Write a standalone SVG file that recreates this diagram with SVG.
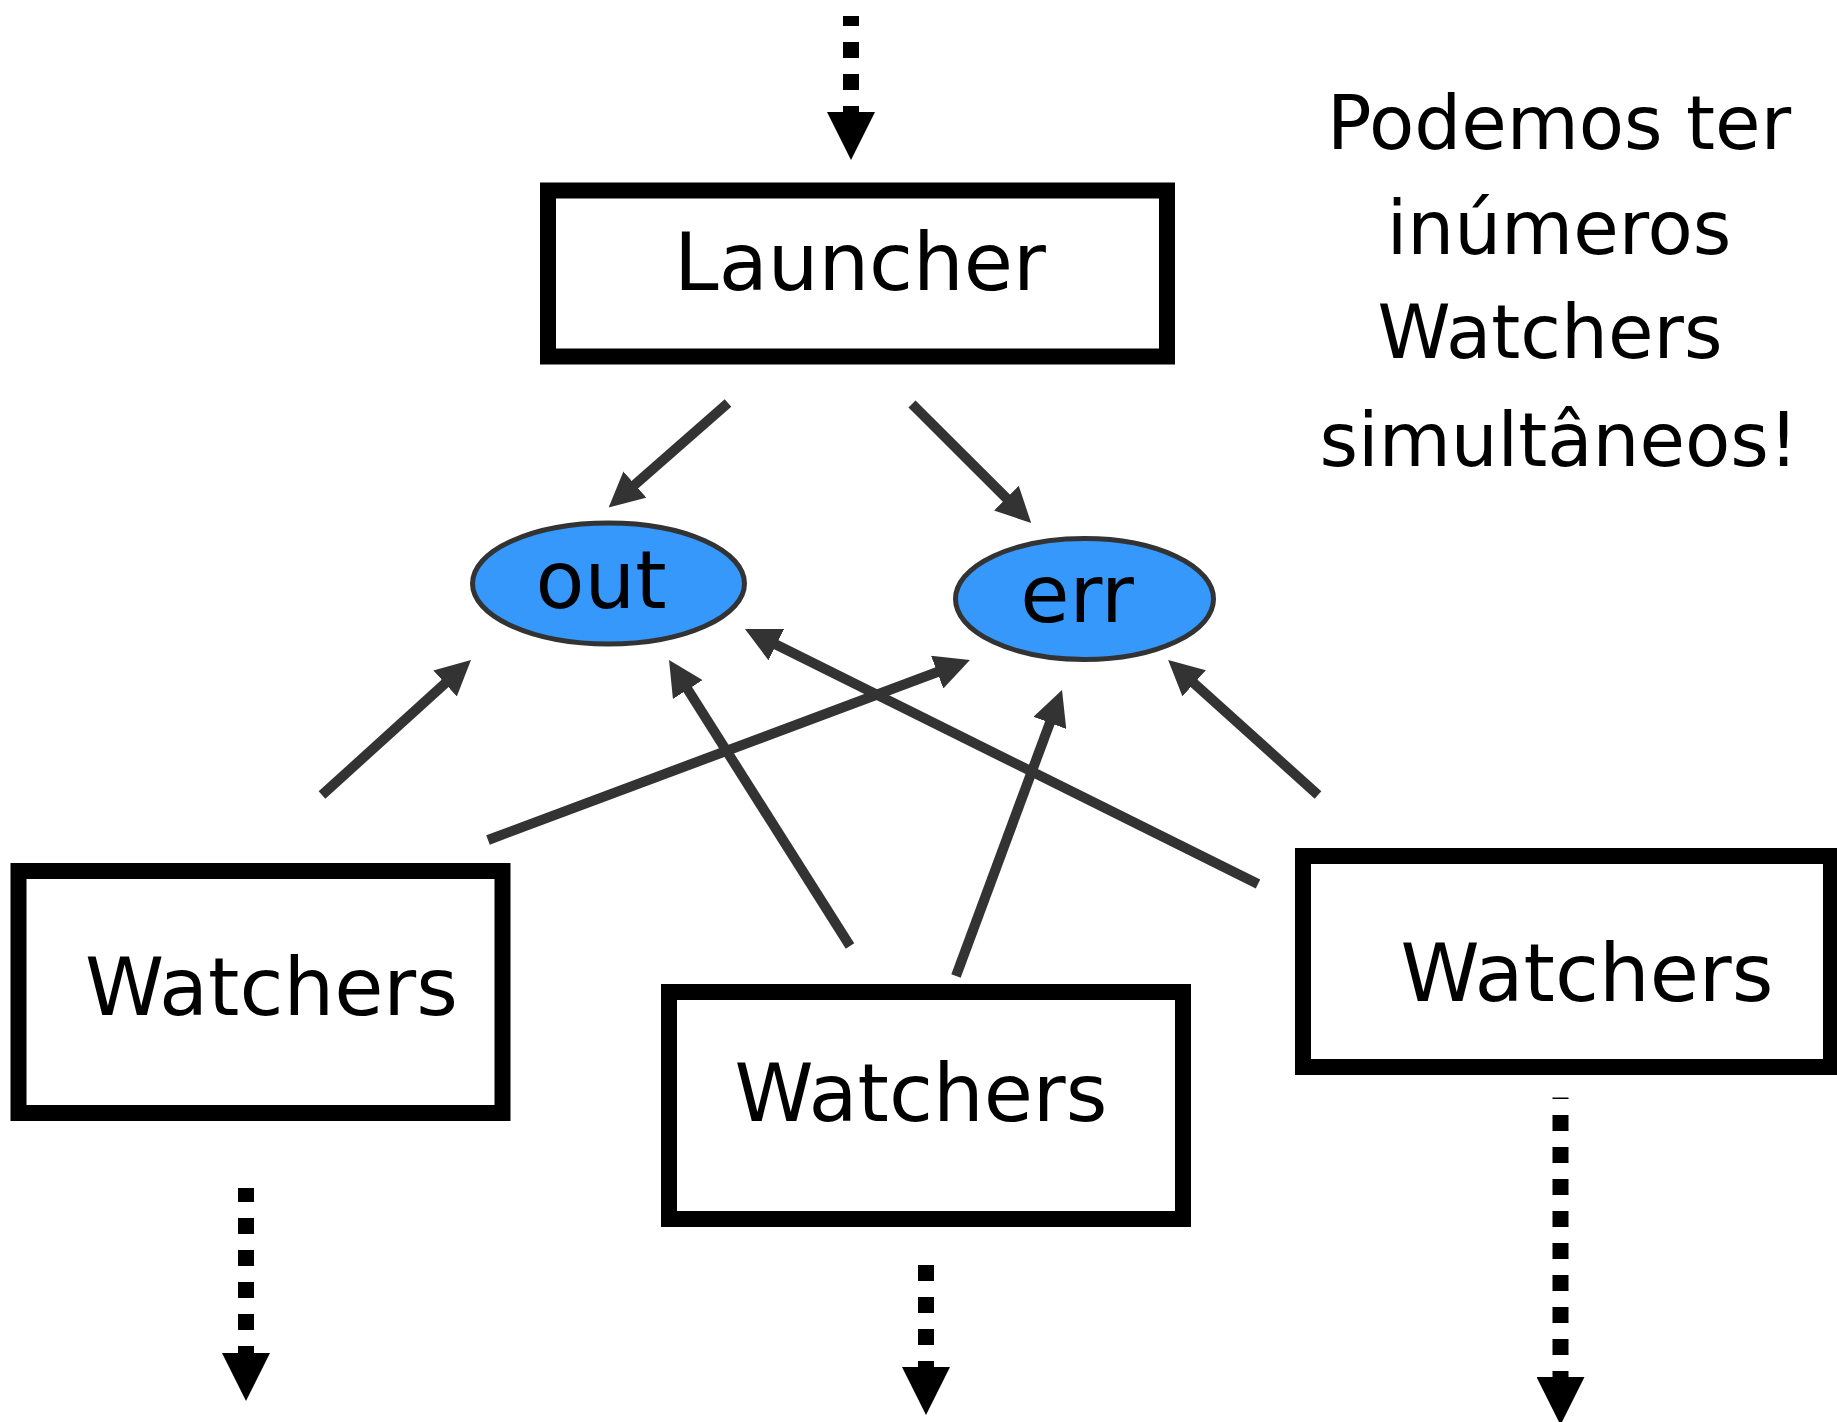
<svg xmlns="http://www.w3.org/2000/svg" width="1837" height="1422" viewBox="0 0 1837 1422">
<style>
  .box { fill: #ffffff; stroke: #000000; stroke-width: 16; }
  .pipe { fill: #3798fc; stroke: #333333; stroke-width: 5; }
  .lbl { font-family: "DejaVu Sans", "Liberation Sans", sans-serif; font-size: 80px; fill: #000000; text-anchor: middle; }
  .note { font-family: "DejaVu Sans", "Liberation Sans", sans-serif; font-size: 74px; fill: #000000; text-anchor: middle; }
  .conn { fill: none; stroke: #333333; stroke-width: 10; marker-end: url(#ah); }
  .flow { fill: none; stroke: #000000; stroke-width: 16; stroke-dasharray: 16 16; marker-end: url(#dh); }
</style>
<defs>
  <marker id="ah" viewBox="0 0 35 35" refX="1" refY="17.5" markerWidth="35" markerHeight="35" markerUnits="userSpaceOnUse" orient="auto">
    <path d="M0,0 L35,17.5 L0,35 z" fill="#333333"/>
  </marker>
  <marker id="dh" viewBox="0 0 48 48" refX="1" refY="24" markerWidth="48" markerHeight="48" markerUnits="userSpaceOnUse" orient="auto">
    <path d="M0,0 L48,24 L0,48 z" fill="#000000"/>
  </marker>
</defs>
<rect width="1837" height="1422" fill="#ffffff"/>

<g id="connectors">
  <line class="conn" x1="728" y1="403" x2="634.2" y2="485.2"/>
  <line class="conn" x1="912" y1="404" x2="1007.1" y2="498.9"/>
  <line class="conn" x1="322" y1="795" x2="445.8" y2="682.8"/>
  <line class="conn" x1="488" y1="840" x2="938.1" y2="671.8"/>
  <line class="conn" x1="850" y1="946" x2="687.2" y2="688.7"/>
  <line class="conn" x1="956" y1="976" x2="1050.2" y2="721.9"/>
  <line class="conn" x1="1258" y1="884" x2="775.4" y2="644.2"/>
  <line class="conn" x1="1318" y1="795" x2="1193.4" y2="682.7"/>
  <line class="flow" x1="851" y1="16" x2="851" y2="113" stroke-dashoffset="6"/>
  <line class="flow" x1="246" y1="1188" x2="246" y2="1354" stroke-dashoffset="2"/>
  <line class="flow" x1="926" y1="1265" x2="926" y2="1368"/>
  <line class="flow" x1="1560.5" y1="1097.5" x2="1560.5" y2="1378" stroke-dashoffset="14.5"/>
</g>

<g id="launcher">
  <rect class="box" x="548" y="190.5" width="619" height="166"/>
  <text class="lbl" x="860" y="290">Launcher</text>
</g>

<g id="out">
  <ellipse class="pipe" cx="608.5" cy="583.5" rx="136" ry="60.5"/>
  <text class="lbl" x="601" y="608">out</text>
</g>

<g id="err">
  <ellipse class="pipe" cx="1084.5" cy="599" rx="129" ry="60.5"/>
  <text class="lbl" x="1077" y="622">err</text>
</g>

<g id="watchers-left">
  <rect class="box" x="18.5" y="871" width="484" height="242"/>
  <text class="lbl" x="271.5" y="1015">Watchers</text>
</g>

<g id="watchers-middle">
  <rect class="box" x="669" y="992" width="514" height="227"/>
  <text class="lbl" x="921" y="1121">Watchers</text>
</g>

<g id="watchers-right">
  <rect class="box" x="1303" y="856" width="528" height="211"/>
  <text class="lbl" x="1587" y="1001">Watchers</text>
</g>

<g id="note">
  <text class="note" x="1559" y="149">Podemos ter</text>
  <text class="note" x="1559" y="254">inúmeros</text>
  <text class="note" x="1550" y="358">Watchers</text>
  <text class="note" x="1559" y="466">simultâneos!</text>
</g>
</svg>
